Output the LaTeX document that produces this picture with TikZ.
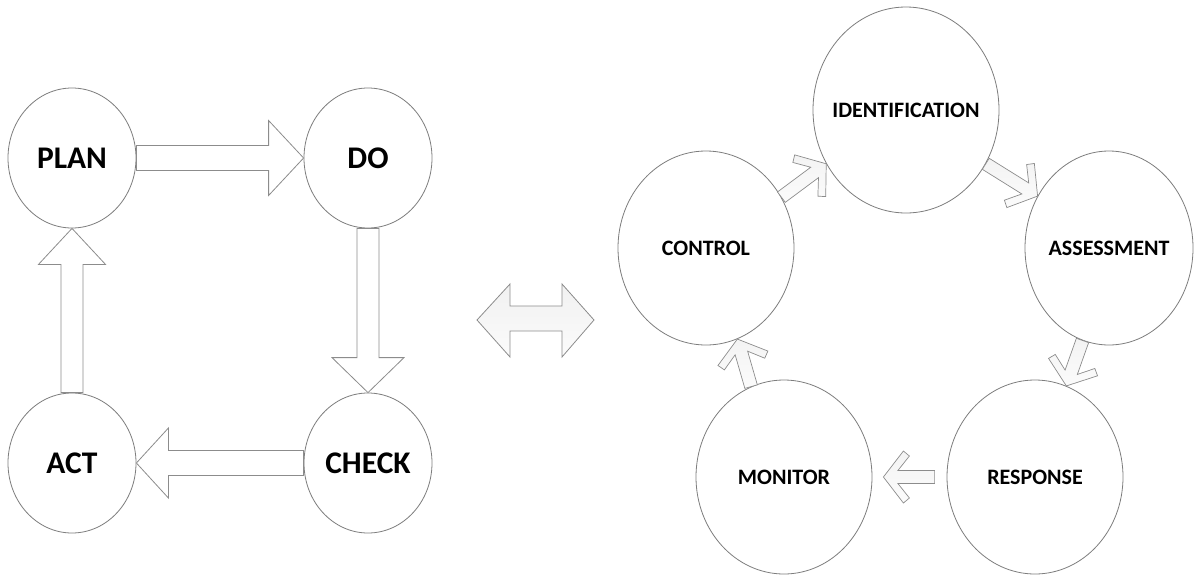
\documentclass[tikz,border=0pt]{standalone}
\usepackage{fontspec}
\setmainfont{Carlito}
\usetikzlibrary{calc,shapes.geometric}

\definecolor{rimgray}{RGB}{125,125,125}
\definecolor{arrowgray}{RGB}{140,140,140}

\tikzset{
  ell/.style={ellipse, draw=rimgray, line width=0.8pt, fill=white, inner sep=0pt},
  bigtxt/.style={font=\fontsize{31.5}{36}\selectfont\bfseries, text=black},
  smalltxt/.style={font=\fontsize{22}{26}\selectfont\bfseries, text=black},
  bigblk/.style={draw=arrowgray, line width=0.8pt, fill=white, line join=miter},
  chev/.style={draw=arrowgray, line width=0.7pt, top color=gray!9, bottom color=gray!3, line join=miter},
  twoway/.style={draw=arrowgray, line width=0.8pt, top color=gray!11, bottom color=gray!3, line join=miter}
}

% block arrow: #1 start, #2 tip, #3 half shaft, #4 half head, #5 head length
\newcommand\blockarrow[5]{%
  \coordinate (bS) at (#1);
  \coordinate (bE) at (#2);
  \coordinate (bH) at ($(bE)!#5!(bS)$);
  \draw[bigblk] ($(bS)!#3!90:(bE)$) -- ($(bH)!#3!90:(bE)$) -- ($(bH)!#4!90:(bE)$)
    -- (bE) -- ($(bH)!#4!-90:(bE)$) -- ($(bH)!#3!-90:(bE)$) -- ($(bS)!#3!-90:(bE)$) -- cycle;}

% thick arrow with an open chevron head: #1 tail, #2 tip
\newcommand\chevarrow[2]{%
  \coordinate (cT) at (#1);
  \coordinate (cH) at (#2);
  \coordinate (cA) at ($(cH)!20pt!(cT)$);
  \coordinate (cB) at ($(cH)!26pt!(cT)$);
  \coordinate (cC) at ($(cH)!14.5pt!(cT)$);
  \draw[chev] (cH) -- ($(cA)!26pt!90:(cH)$) -- ($(cB)!21pt!90:(cH)$) -- ($(cC)!6.5pt!90:(cH)$)
    -- ($(cT)!6.5pt!90:(cH)$) -- ($(cT)!6.5pt!-90:(cH)$) -- ($(cC)!6.5pt!-90:(cH)$)
    -- ($(cB)!21pt!-90:(cH)$) -- ($(cA)!26pt!-90:(cH)$) -- cycle;}

\begin{document}
\begin{tikzpicture}[x=1pt, y=-1pt]
\useasboundingbox (0,0) rectangle (1195,574);

% PDCA cycle
\node[ell, minimum width=128pt, minimum height=140pt, label={[bigtxt]center:PLAN}] (plan) at (72,158) {};
\node[ell, minimum width=128pt, minimum height=140pt, label={[bigtxt]center:DO}] (do) at (368,158) {};
\node[ell, minimum width=128pt, minimum height=140pt, label={[bigtxt]center:CHECK}] (check) at (368,463) {};
\node[ell, minimum width=128pt, minimum height=140pt, label={[bigtxt]center:ACT}] (act) at (72,463) {};

\blockarrow{plan.east}{do.west}{12.5pt}{37.5pt}{35pt}
\blockarrow{do.south}{check.north}{11pt}{36pt}{35pt}
\blockarrow{check.west}{act.east}{12.5pt}{35pt}{32pt}
\blockarrow{act.north}{plan.south}{11pt}{33.5pt}{36pt}

% two-way arrow between the cycles
\draw[twoway] (477,320) -- (510,284) -- (510,306) -- (562,306) -- (562,284) -- (594,320)
  -- (562,357) -- (562,331) -- (510,331) -- (510,357) -- cycle;

% risk management cycle
\node[ell, minimum width=186pt, minimum height=206pt, label={[smalltxt]center:IDENTIFICATION}] (ident) at (906,110) {};
\node[ell, minimum width=176pt, minimum height=194pt, label={[smalltxt]center:CONTROL}] (control) at (706,248) {};
\node[ell, minimum width=168pt, minimum height=194pt, label={[smalltxt]center:ASSESSMENT}] (assess) at (1109,248) {};
\node[ell, minimum width=176pt, minimum height=194pt, label={[smalltxt]center:RESPONSE}] (response) at (1035,477) {};
\node[ell, minimum width=176pt, minimum height=194pt, label={[smalltxt]center:MONITOR}] (monitor) at (784,477) {};

\chevarrow{control.34}{ident.214}
\chevarrow{ident.326}{assess.144}
\chevarrow{assess.254}{response.71}
\chevarrow{$(response.180)!12pt!(monitor.0)$}{$(monitor.0)!11pt!(response.180)$}
\chevarrow{monitor.110}{control.289}
\end{tikzpicture}
\end{document}
